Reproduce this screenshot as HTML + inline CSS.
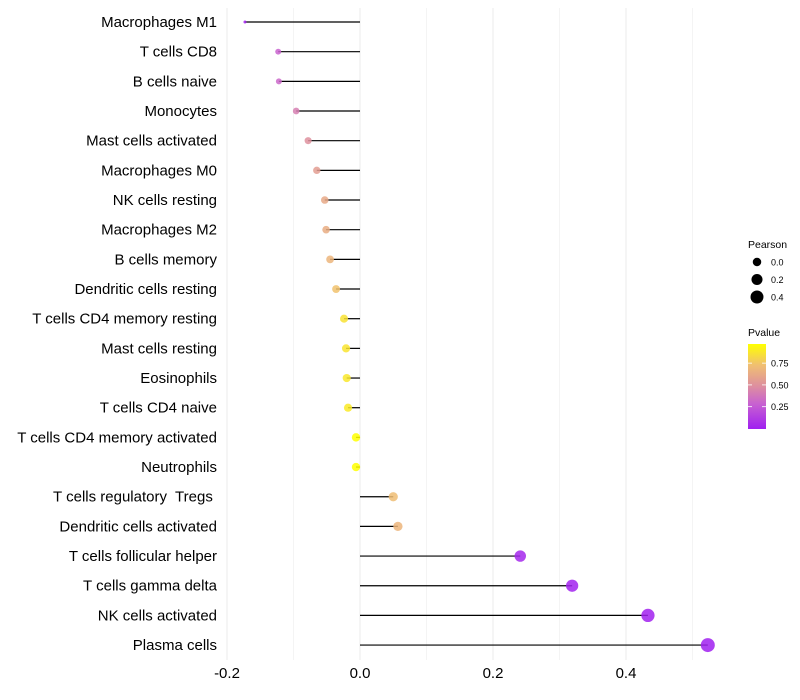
<!DOCTYPE html>
<html><head><meta charset="utf-8"><style>
body{margin:0;background:#fff;}
svg{display:block;font-family:"Liberation Sans",sans-serif;}
text{white-space:pre;}
</style></head><body>
<svg id="chart" width="800" height="700" viewBox="0 0 800 700">
<g id="grid"></g>
<g id="marks"></g>
<g id="ylabels"></g>
<g id="xlabels"></g>
<g id="legend">
<text x="748" y="248" font-size="10.5" fill="#000">Pearson</text>
<g id="sizeLegend"></g>
<text x="748" y="336" font-size="10.5" fill="#000">Pvalue</text>
<defs><linearGradient id="pg" x1="0" y1="1" x2="0" y2="0">
<stop offset="0" stop-color="#a020f0"/><stop offset="0.3" stop-color="#c862d0"/><stop offset="0.5" stop-color="#dd8ea0"/><stop offset="0.75" stop-color="#f0bf72"/><stop offset="1" stop-color="#ffff00"/></linearGradient></defs>
<rect x="748" y="344" width="18" height="85" fill="url(#pg)"/>
<g id="colorTicks"></g>
</g>
</svg>
<script>
const categories=["Macrophages M1","T cells CD8","B cells naive","Monocytes","Mast cells activated","Macrophages M0","NK cells resting","Macrophages M2","B cells memory","Dendritic cells resting","T cells CD4 memory resting","Mast cells resting","Eosinophils","T cells CD4 naive","T cells CD4 memory activated","Neutrophils","T cells regulatory  Tregs ","Dendritic cells activated","T cells follicular helper","T cells gamma delta","NK cells activated","Plasma cells"];
const pearson=[-0.173,-0.123,-0.122,-0.096,-0.078,-0.065,-0.053,-0.051,-0.045,-0.036,-0.024,-0.021,-0.020,-0.018,-0.006,-0.006,0.050,0.057,0.241,0.319,0.433,0.523];
const pvalue=[0.02,0.30,0.32,0.42,0.50,0.56,0.62,0.64,0.68,0.74,0.86,0.87,0.88,0.89,0.97,0.97,0.72,0.68,0.04,0.02,0.01,0.005];
const xTicks=[-0.2,0,0.2,0.4];
const xTickLabels=["-0.2","0.0","0.2","0.4"];
const sizeLegendVals=[0.0,0.2,0.4];
const colorTickVals=[0.25,0.5,0.75];
const colorTickLabels=["0.25","0.50","0.75"];

const NS="http://www.w3.org/2000/svg";
const x=v=>360+v*665;
const y=i=>22+i*29.67;
const pmin=0.005,pmax=0.97;
const cy=p=>428-(p-pmin)/(pmax-pmin)*84;
const rmin=Math.min(...pearson),rmax=Math.max(...pearson);
const rad=v=>1.5+5.5*Math.sqrt(Math.max(0,(v-rmin)/(rmax-rmin)));
const stops=[[0,[160,32,240]],[0.3,[200,98,208]],[0.5,[221,142,160]],[0.75,[240,191,114]],[1,[255,255,0]]];
function col(p){let t=Math.max(0,Math.min(1,(p-pmin)/(pmax-pmin)));for(let k=1;k<stops.length;k++){if(t<=stops[k][0]){const a=stops[k-1],b=stops[k];const f=(t-a[0])/(b[0]-a[0]);const c=a[1].map((v,j)=>Math.round(v+(b[1][j]-v)*f));return `rgb(${c})`;}}return "rgb(255,255,0)";}
function mk(tag,attrs,parent){const e=document.createElementNS(NS,tag);for(const k in attrs)e.setAttribute(k,attrs[k]);parent.appendChild(e);return e;}
const grid=document.getElementById('grid');
[-0.1,0.1,0.3,0.5].forEach(v=>{const l=mk('line',{x1:x(v),x2:x(v),y1:8,y2:660,stroke:'#f4f4f4','stroke-width':1},grid);

});
xTicks.forEach(v=>{const l=mk('line',{x1:x(v),x2:x(v),y1:8,y2:660,stroke:'#ebebeb','stroke-width':1},grid);

});
const marks=document.getElementById('marks');
const yl=document.getElementById('ylabels');
categories.forEach((c,i)=>{
const s=mk('line',{x1:x(0),x2:x(pearson[i]),y1:y(i),y2:y(i),stroke:'#000','stroke-width':1.2},marks);


const d=mk('circle',{cx:x(pearson[i]),cy:y(i),r:rad(pearson[i]),fill:col(pvalue[i]),'fill-opacity':0.85},marks);


const t=mk('text',{x:217,y:y(i)+5,'text-anchor':'end','font-size':15,fill:'#000'},yl);
t.textContent=c;


});
const xl=document.getElementById('xlabels');
xTicks.forEach((v,i)=>{const t=mk('text',{x:x(v),y:678,'text-anchor':'middle','font-size':15,fill:'#000'},xl);
t.textContent=xTickLabels[i];

});
const sl=document.getElementById('sizeLegend');
sizeLegendVals.forEach((v,i)=>{const yy=262+i*17.5;
const c=mk('circle',{cx:757,cy:yy,r:rad(v),fill:'#000'},sl);


const t=mk('text',{x:771,y:yy+3.5,'font-size':9,fill:'#000'},sl);
t.textContent=v.toFixed(1);

});
const ct=document.getElementById('colorTicks');
colorTickVals.forEach((v,i)=>{const yy=cy(v);
mk('line',{x1:748,x2:752,y1:yy,y2:yy,stroke:'#fff','stroke-width':0.8},ct);
mk('line',{x1:762,x2:766,y1:yy,y2:yy,stroke:'#fff','stroke-width':0.8},ct);
const t=mk('text',{x:771,y:yy+3.5,'font-size':9,fill:'#000'},ct);
t.textContent=colorTickLabels[i];

});
</script>
</body></html>
